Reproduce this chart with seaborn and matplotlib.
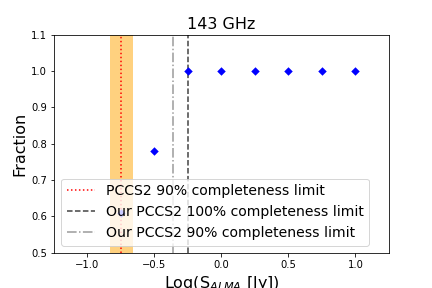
import numpy as np
import pandas as pd
import seaborn as sns
from matplotlib import pyplot as plt

# data
log_flux = [-0.75, -0.5, -0.25, 0.0, 0.25, 0.5, 0.75, 1.0]
fraction = [0.61, 0.78, 1.0, 1.0, 1.0, 1.0, 1.0, 1.0]

pccs2_limit = -0.75
pccs2_band = [-0.83, -0.66]
our_100_limit = -0.25
our_90_limit = -0.36

df = pd.DataFrame({"logS": log_flux, "frac": fraction})

fig, ax = plt.subplots(figsize=(6, 4), dpi=72)
plt.subplots_adjust(left=0.125, right=0.9, top=0.88, bottom=0.122)

ax.axvspan(pccs2_band[0], pccs2_band[1], color='orange', alpha=0.5, lw=0)
sns.scatterplot(data=df, x="logS", y="frac", marker='D', color='blue',
                s=36, edgecolor='blue', linewidth=0, ax=ax, zorder=3)
ax.axvline(pccs2_limit, color='red', ls=':', lw=1.5, label='PCCS2 90% completeness limit')
ax.axvline(our_100_limit, color='k', ls='--', lw=1.5, alpha=0.75,
           label='Our PCCS2 100% completeness limit')
ax.axvline(our_90_limit, color='gray', ls='-.', lw=1.5, alpha=0.8,
           label='Our PCCS2 90% completeness limit')

ax.set_xlim(-1.25, 1.25)
ax.set_ylim(0.5, 1.1)
ax.set_title("143 GHz", fontsize=16)
ax.set_xlabel("Log(S$_{ALMA}$ [Jy])", fontsize=16)
ax.set_ylabel("Fraction", fontsize=16)
ax.legend(fontsize=14, loc='lower left')

plt.savefig("out.png", dpi=72)
